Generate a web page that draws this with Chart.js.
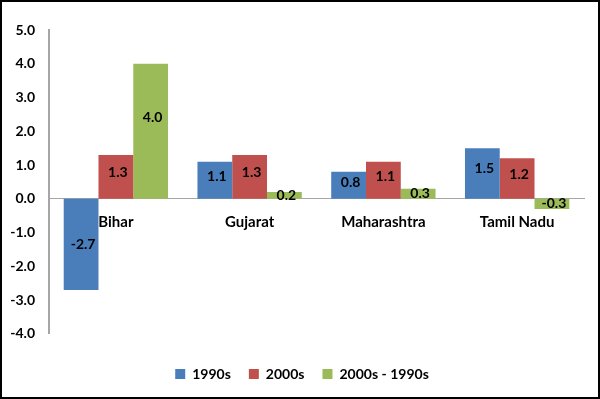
<!DOCTYPE html>
<html><head><meta charset="utf-8">
<script src="https://cdn.jsdelivr.net/npm/chart.js@4/dist/chart.umd.min.js"></script>
<style>html,body{margin:0;padding:0;background:#fff}#wrap{width:600px;height:399px;position:relative}</style>
</head><body><div id="wrap"><canvas id="c" width="600" height="399"></canvas></div>
<script>
const categories = ["Bihar", "Gujarat", "Maharashtra", "Tamil Nadu"];
const s1990 = [-2.7, 1.1, 0.8, 1.5];
const s2000 = [1.3, 1.3, 1.1, 1.2];
const sDiff = [4.0, 0.2, 0.3, -0.3];
const seriesNames = ["1990s", "2000s", "2000s - 1990s"];
const colors = ["#4a7ebb", "#c0504d", "#9bbb59"];
const yMin = -4, yMax = 5, yStep = 1;
const FONT = "Lato, 'Open Sans', sans-serif";

// value-label anchor (in data units) inside each bar
function labelAnchor(v) {
  if (Math.abs(v) < 0.5) return v / 2;
  if (v < 0) return v / 2;
  return Math.min(v - 0.3, v * 0.6);
}

const labelPlugin = {
  id: 'vals',
  afterDatasetsDraw(chart) {
    const ctx = chart.ctx, ys = chart.scales.y;
    ctx.save();
    ctx.font = "bold 14px " + FONT;
    ctx.fillStyle = "#000";
    ctx.textAlign = "center";
    ctx.textBaseline = "middle";
    chart.data.datasets.forEach((ds, di) => {
      const meta = chart.getDatasetMeta(di);
      meta.data.forEach((bar, i) => {
        const v = ds.data[i];
        ctx.fillText(v.toFixed(1), bar.x + 2, ys.getPixelForValue(labelAnchor(v)));
      });
    });
    ctx.restore();
  }
};
const borderPlugin = {
  id: 'border',
  afterLayout(chart) {
    if (chart.legend) { chart.legend.left += 10; chart.legend.right += 10; }
  },
  afterDraw(chart) {
    const ctx = chart.ctx;
    ctx.save();
    ctx.strokeStyle = "#000";
    ctx.lineWidth = 2;
    ctx.strokeRect(1, 1, chart.width - 2, chart.height - 2);
    ctx.restore();
  }
};

new Chart(document.getElementById('c'), {
  type: 'bar',
  data: {
    labels: categories,
    datasets: [
      {label: seriesNames[0], data: s1990, backgroundColor: colors[0]},
      {label: seriesNames[1], data: s2000, backgroundColor: colors[1]},
      {label: seriesNames[2], data: sDiff, backgroundColor: colors[2]}
    ]
  },
  options: {
    responsive: false,
    animation: false,
    layout: {padding: {top: 30, right: 16, bottom: 8, left: 0}},
    plugins: {
      legend: {
        position: 'bottom',
        title: {display: true, text: ' ', font: {size: 1}, padding: {top: 7, bottom: 7}},
        labels: {boxWidth: 10, boxHeight: 10, padding: 18, color: '#000', font: {family: FONT, size: 14, weight: 'bold'}}
      },
      tooltip: {enabled: false}
    },
    datasets: {bar: {categoryPercentage: 0.78, barPercentage: 1.0}},
    scales: {
      x: {
        position: {y: 0},
        grid: {display: false, drawTicks: false},
        border: {display: true, color: '#a6a6a6', width: 1},
        ticks: {padding: 14, color: '#000', font: {family: FONT, size: 15, weight: 'bold'}}
      },
      y: {
        min: yMin, max: yMax,
        grid: {display: false, drawTicks: false},
        border: {display: true, color: '#a6a6a6', width: 2},
        ticks: {stepSize: yStep, padding: 14, color: '#000', font: {family: FONT, size: 14, weight: 'bold'},
          callback: v => Number(v).toFixed(1)},
        afterFit(s) { s.width = 49; }
      }
    }
  },
  plugins: [labelPlugin, borderPlugin]
});
</script></body></html>
